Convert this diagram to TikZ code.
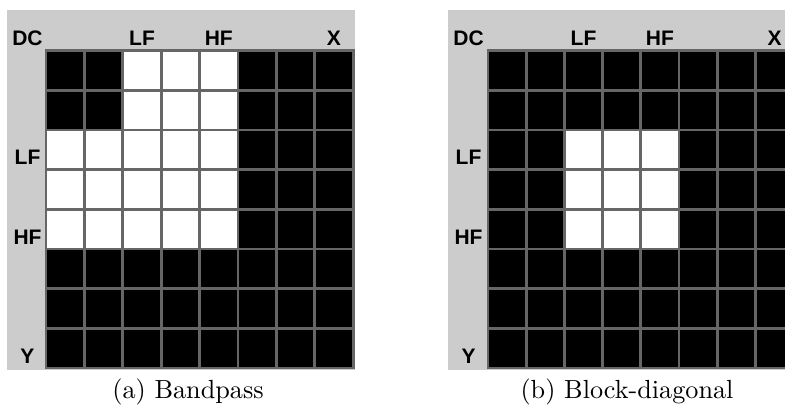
\documentclass[tikz,border=0pt]{standalone}
\usepackage{fontspec}
\usepackage{graphicx}
\newfontfamily\lblfont{Liberation Sans}
\definecolor{bggray}{HTML}{CCCCCC}
\definecolor{linegray}{HTML}{666666}
\tikzset{
  bgpanel/.style={fill=bggray, draw=none},
  cellbox/.style={draw=linegray, line width=2.7pt, inner sep=0pt, minimum height=39.67pt, fill=black},
  wcell/.style={fill=white},
  axlabel/.style={font=\lblfont\bfseries\fontsize{21}{21}\selectfont, inner sep=0pt, anchor=base},
  caplabel/.style={inner sep=0pt, anchor=base}
}
\newcommand{\captext}[1]{\scalebox{2.62}{\fontsize{10}{12}\selectfont #1}}
\begin{document}
\begin{tikzpicture}[x=1pt,y=-1pt]
\useasboundingbox (0,0) rectangle (785,405);
\begin{scope}
\clip (0,0) rectangle (785,405);
% backgrounds
\fill[bgpanel] (7,10) rectangle (354.5,369.5);
\fill[bgpanel] (448,10) rectangle (800,369.5);
% left panel cells (bandpass)
\foreach \r in {1,...,8}{
  \foreach \c in {1,...,8}{
    \pgfmathtruncatemacro{\w}{((\r<=2 && \c>=3 && \c<=5) || (\r>=3 && \r<=5 && \c<=5)) ? 1 : 0}
    \ifnum\w=1
      \node[cellbox, wcell, minimum width=38.4pt] (a-\r-\c) at ({46+(\c-0.5)*38.4},{50.7+(\r-0.5)*39.67}) {};
    \else
      \node[cellbox, minimum width=38.4pt] (a-\r-\c) at ({46+(\c-0.5)*38.4},{50.7+(\r-0.5)*39.67}) {};
    \fi
  }
}
% right panel cells (block-diagonal)
\foreach \r in {1,...,8}{
  \foreach \c in {1,...,8}{
    \pgfmathtruncatemacro{\w}{(\r>=3 && \r<=5 && \c>=3 && \c<=5) ? 1 : 0}
    \ifnum\w=1
      \node[cellbox, wcell, minimum width=38.2pt] (b-\r-\c) at ({488+(\c-0.5)*38.2},{50.7+(\r-0.5)*39.67}) {};
    \else
      \node[cellbox, minimum width=38.2pt] (b-\r-\c) at ({488+(\c-0.5)*38.2},{50.7+(\r-0.5)*39.67}) {};
    \fi
  }
}
\end{scope}
% left labels
\node[axlabel] (aDC) at (27.5,45) {DC};
\node[axlabel] (aLFc) at ({46+2.5*38.4},45) {LF};
\node[axlabel] (aHFc) at ({46+4.5*38.4},45) {HF};
\node[axlabel] (aX) at ({46+7.5*38.4},45) {X};
\node[axlabel] (aLFr) at (27.5,{50.7+3*39.67-5}) {LF};
\node[axlabel] (aHFr) at (27.5,{50.7+5*39.67-5}) {HF};
\node[axlabel] (aY) at (27.5,{50.7+8*39.67-5}) {Y};
% right labels
\node[axlabel] (bDC) at (468.5,45) {DC};
\node[axlabel] (bLFc) at ({488+2.5*38.2},45) {LF};
\node[axlabel] (bHFc) at ({488+4.5*38.2},45) {HF};
\node[axlabel] (bX) at ({488+7.5*38.2},45) {X};
\node[axlabel] (bLFr) at (468.5,{50.7+3*39.67-5}) {LF};
\node[axlabel] (bHFr) at (468.5,{50.7+5*39.67-5}) {HF};
\node[axlabel] (bY) at (468.5,{50.7+8*39.67-5}) {Y};
% captions
\node[caplabel] (capa) at (188,398.5) {\captext{(a) Bandpass}};
\node[caplabel] (capb) at (627,398.5) {\captext{(b) Block-diagonal}};
\end{tikzpicture}
\end{document}
